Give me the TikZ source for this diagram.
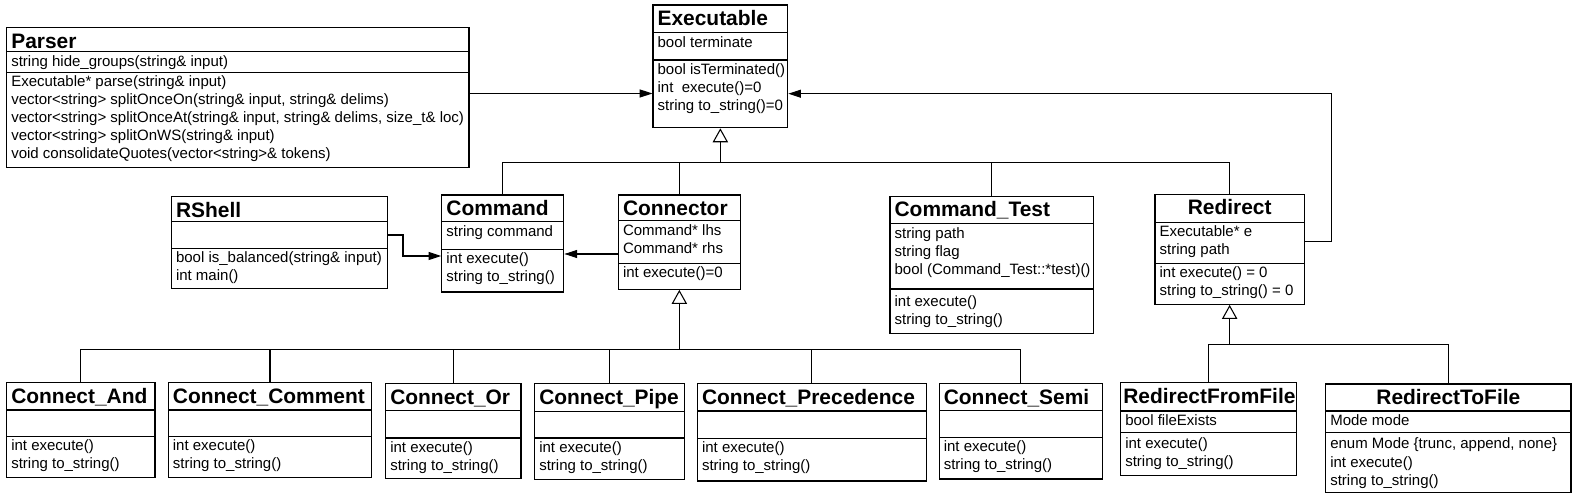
\documentclass[tikz,border=0pt]{standalone}
\usepackage{fontspec}
\setmainfont{Liberation Sans}
\usepackage{tikz}
\usetikzlibrary{positioning}
\usetikzlibrary{arrows.meta,fit}
\usetikzlibrary{calc}

\begin{document}
\begin{tikzpicture}[x=0.75pt, y=-0.75pt, line width=0.9pt,
   cls/.style={draw, inner sep=0pt},
   ttl/.style={font=\fontsize{15.7}{18}\selectfont\bfseries, inner sep=0pt, anchor=base west},
   txt/.style={font=\fontsize{11.25}{13}\selectfont, inner sep=0pt, anchor=base west},
   lnk/.style={line width=0.8pt},
   inh/.style={line width=0.8pt, -{Triangle[open,length=10.5pt,width=11.5pt]}},
   assoc/.style={line width=0.8pt, -{Triangle[length=9.5pt,width=6pt]}}]

   \useasboundingbox[fill=white] (0,0) rectangle (1579,502);

 %Executable
 \def\lx{653};
 \def\rx{787.7};
    \node[cls, fit={(\lx,5) (\rx,127.7)}] (exec) {};
    \foreach \h in {32.3,60}{ \draw (\lx,\h) -- (\rx,\h); }
    \node[ttl] (exec-t) at (\lx+4,26) {Executable};
    \foreach \y/\txt/\name in {47.3/{bool terminate}/exec-a1, 75/{bool isTerminated()}/exec-m1,
         92.7/{int\ \ execute()=0}/exec-m2, 110.7/{string to\_string()=0}/exec-m3}{
         \node[txt] (\name) at (\lx+4,\y) {\txt};
    }

 %Parser
 \def\lx{6.7};
 \def\rx{469};
    \node[cls, fit={(\lx,27.7) (\rx,167.3)}] (parser) {};
    \foreach \h in {51.7,72.7}{ \draw (\lx,\h) -- (\rx,\h); }
    \node[ttl] (parser-t) at (\lx+4,48.7) {Parser};
    \foreach \y/\txt/\name in {66.7/{string hide\_groups(string\& input)}/parser-a1,
         87/{Executable* parse(string\& input)}/parser-m1,
         105/{vector<string> splitOnceOn(string\& input, string\& delims)}/parser-m2,
         123/{vector<string> splitOnceAt(string\& input, string\& delims, size\_t\& loc)}/parser-m3,
         141/{vector<string> splitOnWS(string\& input)}/parser-m4,
         159/{void consolidateQuotes(vector<string>\& tokens)}/parser-m5}{
         \node[txt] (\name) at (\lx+4,\y) {\txt};
    }

 %RShell
 \def\lx{171.4};
 \def\rx{387.8};
    \node[cls, fit={(\lx,196.7) (\rx,288.7)}] (rshell) {};
    \foreach \h in {221.7,248.3}{ \draw (\lx,\h) -- (\rx,\h); }
    \node[ttl] (rshell-t) at (\lx+4,217.7) {RShell};
    \foreach \y/\txt/\name in {262.3/{bool is\_balanced(string\& input)}/rshell-m1, 280.5/{int main()}/rshell-m2}{
         \node[txt] (\name) at (\lx+4,\y) {\txt};
    }

 %Command
 \def\lx{441.8};
 \def\rx{563.8};
    \node[cls, fit={(\lx,195) (\rx,292)}] (cmd) {};
    \foreach \h in {221.7,249.3}{ \draw (\lx,\h) -- (\rx,\h); }
    \node[ttl] (cmd-t) at (\lx+4,216) {Command};
    \foreach \y/\txt/\name in {236.5/{string command}/cmd-a1, 264/{int execute()}/cmd-m1, 282/{string to\_string()}/cmd-m2}{
         \node[txt] (\name) at (\lx+4,\y) {\txt};
    }

 %Connector
 \def\lx{618.4};
 \def\rx{740.3};
    \node[cls, fit={(\lx,195) (\rx,289.3)}] (conn) {};
    \foreach \h in {220.7,263.3}{ \draw (\lx,\h) -- (\rx,\h); }
    \node[ttl] (conn-t) at (\lx+4,216) {Connector};
    \foreach \y/\txt/\name in {235.5/{Command* lhs}/conn-a1, 253.5/{Command* rhs}/conn-a2, 277.5/{int execute()=0}/conn-m1}{
         \node[txt] (\name) at (\lx+4,\y) {\txt};
    }

 %Command_Test
 \def\lx{890};
 \def\rx{1093.3};
    \node[cls, fit={(\lx,196.7) (\rx,333.3)}] (ctest) {};
    \draw (\lx,223.3) -- (\rx,223.3);
    \draw[line width=1.6pt] (\lx,289.3) -- (\rx,289.3);
    \node[ttl] (ctest-t) at (\lx+4,216.7) {Command\_Test};
    \foreach \y/\txt/\name in {238.3/{string path}/ctest-a1, 256.5/{string flag}/ctest-a2,
         274.5/{bool (Command\_Test::*test)()}/ctest-a3, 306.7/{int execute()}/ctest-m1, 325/{string to\_string()}/ctest-m2}{
         \node[txt] (\name) at (\lx+4,\y) {\txt};
    }

 %Redirect
 \def\lx{1155};
 \def\rx{1304.3};
    \node[cls, fit={(\lx,194.3) (\rx,304.3)}] (redir) {};
    \foreach \h in {222.3,263.3}{ \draw (\lx,\h) -- (\rx,\h); }
    \node[ttl, anchor=base] (redir-t) at (\lx/2+\rx/2,215) {Redirect};
    \foreach \y/\txt/\name in {236.7/{Executable* e}/redir-a1, 254.5/{string path}/redir-a2,
         277.3/{int execute() = 0}/redir-m1, 295.3/{string to\_string() = 0}/redir-m2}{
         \node[txt] (\name) at (\lx+4,\y) {\txt};
    }

 %Connect_* row
    \foreach \name/\lx/\rx/\tp/\bt/\ha/\hb/\ttl in {cand/6.7/155/382.7/477.7/410/436.7/{Connect\_And},
         ccom/168.3/371.7/382.7/477.7/410/436.7/{Connect\_Comment},
         cor/385.7/521/383.3/478.3/410.7/438/{Connect\_Or},
         cpipe/534.7/684.2/383.3/479.7/411.3/438/{Connect\_Pipe},
         cprec/697.4/926.4/383.3/481/411/438.3/{Connect\_Precedence},
         csemi/939.2/1102.4/383.3/479/410.7/437.3/{Connect\_Semi}}{
         \node[cls, fit={(\lx,\tp) (\rx,\bt)}] (\name) {};
         \draw (\lx,\ha) -- (\rx,\ha);
         \draw (\lx,\hb) -- (\rx,\hb);
         \node[ttl] (\name-t) at (\lx+4,\tp+21) {\ttl};
         \node[txt] (\name-m1) at (\lx+4,\hb+14) {int execute()};
         \node[txt] (\name-m2) at (\lx+4,\hb+32) {string to\_string()};
    }

 %RedirectFromFile
 \def\lx{1120.7};
 \def\rx{1296.7};
    \node[cls, fit={(\lx,382.7) (\rx,475.7)}] (rfrom) {};
    \foreach \h in {411,432.7}{ \draw (\lx,\h) -- (\rx,\h); }
    \node[ttl] (rfrom-t) at (\lx+2,404) {RedirectFromFile};
    \foreach \y/\txt/\name in {426/{bool fileExists}/rfrom-a1, 448.3/{int execute()}/rfrom-m1, 466.7/{string to\_string()}/rfrom-m2}{
         \node[txt] (\name) at (\lx+4,\y) {\txt};
    }

 %RedirectToFile
 \def\lx{1325.7};
 \def\rx{1571};
    \node[cls, fit={(\lx,384) (\rx,492.3)}] (rto) {};
    \foreach \h in {411,432.7}{ \draw (\lx,\h) -- (\rx,\h); }
    \node[ttl, anchor=base] (rto-t) at (\lx/2+\rx/2,404.7) {RedirectToFile};
    \foreach \y/\txt/\name in {426/{Mode mode}/rto-a1, 449/{enum Mode \{trunc, append, none\}}/rto-m1,
         467.3/{int execute()}/rto-m2, 485.5/{string to\_string()}/rto-m3}{
         \node[txt] (\name) at (\lx+4,\y) {\txt};
    }

 %inheritance
    \coordinate (j0) at ($(exec.south)+(0,34)$);
    \coordinate (j1) at ($(conn.south)+(0,60)$);
    \coordinate (j2) at ($(redir.south)+(0,39.7)$);

    \draw[lnk] (cmd.north) |- (redir.north |- j0) -- (redir.north);
    \foreach \name in {conn,ctest}{ \draw[lnk] (\name.north) -- (\name.north |- j0); }
    \draw[inh] (j0) -- (exec.south);

    \draw[lnk] (cand.north) |- (csemi.north |- j1) -- (csemi.north);
    \foreach \name in {ccom,cor,cpipe,cprec}{ \draw[lnk] (\name.north) -- (\name.north |- j1); }
    \draw[inh] (j1) -- (conn.south);

    \draw[lnk] (rfrom.north) |- (rto.north |- j2) -- (rto.north);
    \draw[inh] (j2) -- (redir.south);

 %associations
    \coordinate (pa) at (0,93.5);
    \draw[assoc] (parser.east |- pa) -- (exec.west |- pa);

    \coordinate (ca) at (0,254);
    \draw[assoc] (conn.west |- ca) -- (cmd.east |- ca);

    \coordinate (rs1) at (403,235);
    \coordinate (rs2) at (403,256);
    \draw[assoc] (rshell.east |- rs1) -- (rs1) -- (rs2) -- (cmd.west |- rs2);

    \coordinate (re1) at (1331.7,241.7);
    \coordinate (re2) at (1331.7,93.7);
    \draw[assoc] (redir.east |- re1) -- (re1) -- (re2) -- (exec.east |- re2);

\end{tikzpicture}
\end{document}
